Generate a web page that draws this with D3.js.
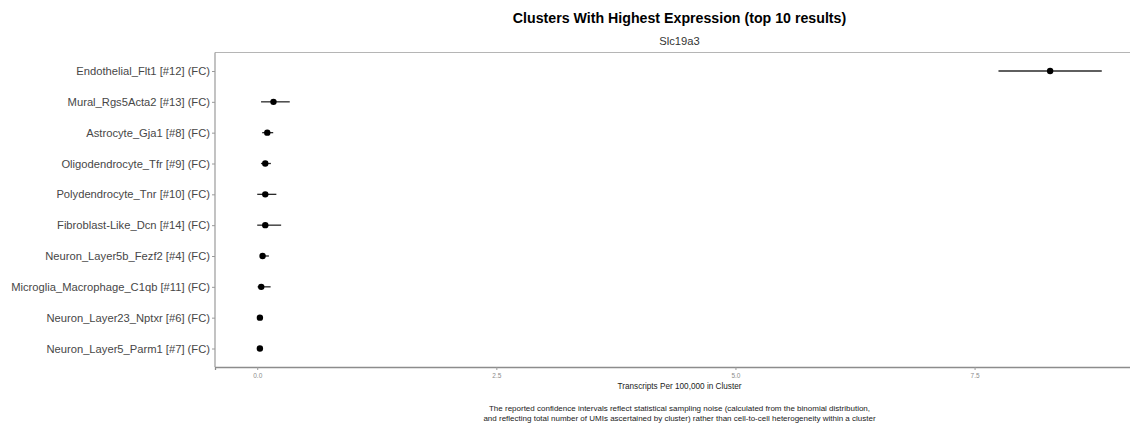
<!DOCTYPE html>
<html>
<head>
<meta charset="utf-8">
<script src="https://cdn.jsdelivr.net/npm/d3@7"></script>
<style>
  html, body { margin: 0; padding: 0; background: #fff; }
  svg { display: block; }
  text { font-family: "Liberation Sans", Arial, sans-serif; }
</style>
</head>
<body>
<svg id="chart" width="1130" height="430"></svg>
<script>
// Clusters, top to bottom
const categories = [
  "Endothelial_Flt1 [#12] (FC)",
  "Mural_Rgs5Acta2 [#13] (FC)",
  "Astrocyte_Gja1 [#8] (FC)",
  "Oligodendrocyte_Tfr [#9] (FC)",
  "Polydendrocyte_Tnr [#10] (FC)",
  "Fibroblast-Like_Dcn [#14] (FC)",
  "Neuron_Layer5b_Fezf2 [#4] (FC)",
  "Microglia_Macrophage_C1qb [#11] (FC)",
  "Neuron_Layer23_Nptxr [#6] (FC)",
  "Neuron_Layer5_Parm1 [#7] (FC)"
];
// Transcripts per 100,000 (point estimate and confidence interval)
const meanValues = [8.29, 0.17, 0.105, 0.084, 0.084, 0.084, 0.056, 0.042, 0.028, 0.028];
const lowerValues = [7.75, 0.04, 0.052, 0.039, 0.0, 0.0, 0.028, 0.004, 0.015, 0.015];
const upperValues = [8.83, 0.34, 0.167, 0.143, 0.20, 0.25, 0.122, 0.14, 0.045, 0.045];
const xTicks = [0, 2.5, 5, 7.5];

const titleText = "Clusters With Highest Expression (top 10 results)";
const subtitleText = "Slc19a3";
const xAxisTitle = "Transcripts Per 100,000 in Cluster";
const captionLines = [
  "The reported confidence intervals reflect statistical sampling noise (calculated from the binomial distribution,",
  "and reflecting total number of UMIs ascertained by cluster) rather than cell-to-cell heterogeneity within a cluster"
];

const svg = d3.select("#chart");
const panel = { left: 215, right: 1144, top: 52.5, bottom: 367 };

// continuous scale with 5% expansion like the plotting default
const lo = d3.min(lowerValues), hi = d3.max(upperValues);
const pad = (hi - lo) * 0.05;
const x = d3.scaleLinear().domain([lo - pad, hi + pad]).range([panel.left, panel.right]);

// discrete scale with 0.6 band expansion on each side
const y = d3.scalePoint().domain(categories).range([panel.top, panel.bottom]).padding(0.6);

const centerX = (panel.left + panel.right) / 2;

// panel outline
svg.append("line")
  .attr("x1", panel.left).attr("x2", panel.right)
  .attr("y1", panel.top).attr("y2", panel.top)
  .attr("stroke", "#b5b5b5").attr("stroke-width", 1);

// x axis
const xAxis = d3.axisBottom(x).tickValues(xTicks).tickFormat(d3.format(".1f")).tickSize(3).tickPadding(3);
const gx = svg.append("g").attr("transform", `translate(0,${panel.bottom})`).call(xAxis);
gx.select(".domain").attr("stroke", "#8c8c8c").attr("stroke-width", 1.3);
gx.selectAll(".tick line").attr("stroke", "#9a9a9a");
gx.selectAll(".tick text").attr("fill", "#8c8c8c").style("font-size", "6.5px");

// y axis
const yAxis = d3.axisLeft(y).tickSize(3).tickPadding(2);
const gy = svg.append("g").attr("transform", `translate(${panel.left},0)`).call(yAxis);
gy.select(".domain").attr("stroke", "#9a9a9a").attr("stroke-width", 1.2)
  .attr("d", `M0,${panel.top}V${panel.bottom}`);
gy.selectAll(".tick line").attr("stroke", "#9a9a9a");
gy.selectAll(".tick text").attr("fill", "#474747").style("font-size", "11.2px");

// confidence intervals
svg.append("g").selectAll("line")
  .data(categories)
  .join("line")
  .attr("x1", (d, i) => x(lowerValues[i]))
  .attr("x2", (d, i) => x(upperValues[i]))
  .attr("y1", d => y(d)).attr("y2", d => y(d))
  .attr("stroke", "#2a2a2a").attr("stroke-width", 1.3);

// point estimates
svg.append("g").selectAll("circle")
  .data(categories)
  .join("circle")
  .attr("cx", (d, i) => x(meanValues[i]))
  .attr("cy", d => y(d))
  .attr("r", 3.2)
  .attr("fill", "#000");

// titles
svg.append("text").attr("x", centerX).attr("y", 23).attr("text-anchor", "middle")
  .style("font-size", "14.2px").style("font-weight", "bold").attr("fill", "#000").text(titleText);
svg.append("text").attr("x", centerX).attr("y", 45).attr("text-anchor", "middle")
  .style("font-size", "11.2px").attr("fill", "#333").text(subtitleText);
svg.append("text").attr("x", centerX).attr("y", 389).attr("text-anchor", "middle")
  .style("font-size", "8.2px").attr("fill", "#222").text(xAxisTitle);

svg.append("g").selectAll("text")
  .data(captionLines)
  .join("text")
  .attr("x", centerX)
  .attr("y", (d, i) => 411 + i * 10)
  .attr("text-anchor", "middle")
  .style("font-size", "8px").attr("fill", "#222")
  .text(d => d);
</script>
</body>
</html>
